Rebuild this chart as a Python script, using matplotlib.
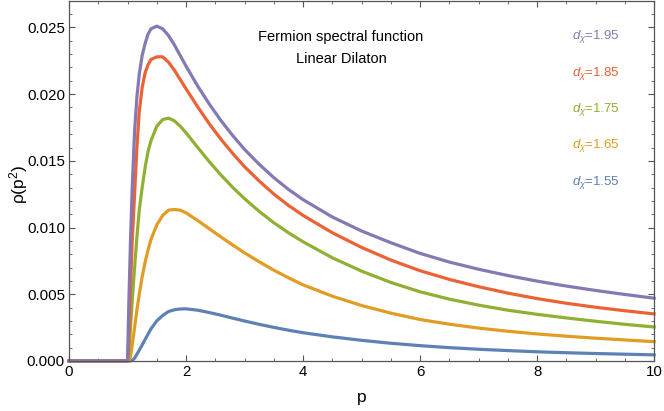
import matplotlib.pyplot as plt
from matplotlib.ticker import MultipleLocator

plt.rcParams['font.family'] = ['Liberation Sans', 'DejaVu Sans']
plt.rcParams['mathtext.fontset'] = 'custom'
plt.rcParams['mathtext.rm'] = 'Liberation Sans'
plt.rcParams['mathtext.it'] = 'Liberation Sans:italic'

# momentum grid
p = [0, 1.0, 1.02, 1.05, 1.08, 1.12, 1.16, 1.2, 1.25, 1.3, 1.35, 1.4, 1.5, 1.6,
     1.7, 1.8, 1.9, 2.0, 2.2, 2.4, 2.6, 2.8, 3.0, 3.25, 3.5, 3.75, 4.0, 4.5,
     5.0, 5.5, 6.0, 6.5, 7.0, 7.5, 8.0, 8.5, 9.0, 9.5, 10.0]

rho_155 = [0, 0, 0, 0, 0.00003, 0.0002, 0.0005, 0.0008, 0.0012, 0.0016, 0.0020,
           0.0024, 0.0030, 0.0034, 0.0037, 0.00383, 0.00389, 0.0039, 0.0038,
           0.00362, 0.00342, 0.0032, 0.00299, 0.00274, 0.00251, 0.0023,
           0.00211, 0.0018, 0.00154, 0.00132, 0.00114, 0.00099, 0.00087,
           0.00077, 0.00068, 0.00061, 0.00055, 0.0005, 0.00045]
rho_165 = [0, 0, 0, 0.0003, 0.0012, 0.0025, 0.0038, 0.0050, 0.0063, 0.0074,
           0.0083, 0.0091, 0.0102, 0.0109, 0.0113, 0.01135, 0.0113, 0.0111,
           0.01052, 0.0099, 0.00928, 0.00868, 0.0081, 0.00743, 0.0068, 0.00623,
           0.0057, 0.00485, 0.00415, 0.00358, 0.0031, 0.00275, 0.00246,
           0.00222, 0.00202, 0.00185, 0.0017, 0.00157, 0.00144]
rho_175 = [0, 0, 0.0005, 0.0025, 0.0045, 0.0070, 0.0093, 0.0113, 0.0130, 0.0145,
           0.0157, 0.0165, 0.0176, 0.0181, 0.0182, 0.0180, 0.0176, 0.0171,
           0.0160, 0.01492, 0.01392, 0.0130, 0.01216, 0.01121, 0.01036,
           0.00961, 0.00893, 0.00773, 0.00673, 0.00588, 0.00518, 0.00463,
           0.00418, 0.0038, 0.00349, 0.00322, 0.00297, 0.00274, 0.00254]
rho_185 = [0, 0, 0.0015, 0.0055, 0.0090, 0.0125, 0.0160, 0.0187, 0.0205, 0.0216,
           0.0222, 0.0226, 0.0228, 0.0228, 0.0224, 0.0218, 0.0211, 0.0204,
           0.01904, 0.01776, 0.0166, 0.01554, 0.01456, 0.01349, 0.01251,
           0.01166, 0.01091, 0.00961, 0.00851, 0.00756, 0.00676, 0.00611,
           0.00556, 0.00508, 0.00467, 0.00432, 0.00402, 0.00376, 0.00352]
rho_195 = [0, 0, 0.0040, 0.0090, 0.0130, 0.0172, 0.0198, 0.0215, 0.0229, 0.0238,
           0.0245, 0.0249, 0.0251, 0.0249, 0.0244, 0.0237, 0.0229, 0.0221,
           0.0206, 0.01924, 0.0180, 0.01688, 0.01586, 0.01474, 0.01374,
           0.01286, 0.01209, 0.01079, 0.00974, 0.00886, 0.00806, 0.00741,
           0.00687, 0.0064, 0.00598, 0.00561, 0.00528, 0.00498, 0.0047]

labels = ['1.55', '1.65', '1.75', '1.85', '1.95']
series = [rho_155, rho_165, rho_175, rho_185, rho_195]
colors = ['#5E81B5', '#E19C24', '#8FB032', '#EB6235', '#8778B3']

fig = plt.figure(figsize=(6.64, 4.11), dpi=100)
ax = fig.add_axes([0.104, 0.122, 0.881, 0.876])

for rho, c in zip(series, colors):
    ax.plot(p, rho, color=c, lw=2.3, solid_joinstyle='round', clip_on=False)

ax.set_xlim(0, 10)
ax.set_ylim(0, 0.027)
ax.xaxis.set_major_locator(MultipleLocator(2))
ax.xaxis.set_minor_locator(MultipleLocator(0.5))
ax.yaxis.set_major_locator(MultipleLocator(0.005))
ax.yaxis.set_minor_locator(MultipleLocator(0.001))
ax.yaxis.set_major_formatter(plt.FormatStrFormatter('%.3f'))

frame = '#555555'
for s in ax.spines.values():
    s.set_color(frame)
    s.set_linewidth(0.9)
ax.tick_params(which='both', direction='in', top=True, right=True, color=frame,
               labelsize=10.8)
ax.tick_params(which='major', length=4, width=0.8)
ax.tick_params(which='minor', length=2.2, width=0.6)
ax.tick_params(axis='x', pad=3)
ax.tick_params(axis='y', pad=3)

ax.set_xlabel('p', fontsize=12.5, labelpad=8)
ax.set_ylabel('ρ(p$^2$)', fontsize=12.5)
ax.yaxis.set_label_coords(-0.066, 0.49)

ax.text(4.65, 0.0243, 'Fermion spectral function', ha='center', va='center',
        fontsize=10.5)
ax.text(4.65, 0.0226, 'Linear Dilaton', ha='center', va='center', fontsize=10.5)

# legend labels, top to bottom
label_y = [0.0134, 0.01617, 0.01884, 0.02158, 0.02433]
for lab, c, yy in zip(labels, colors, label_y):
    ax.text(9.42, yy, r'$d_{\chi}$=' + lab, color=c, ha='right', va='center',
            fontsize=9.5)

plt.savefig('out.png', dpi=100)
plt.close(fig)
